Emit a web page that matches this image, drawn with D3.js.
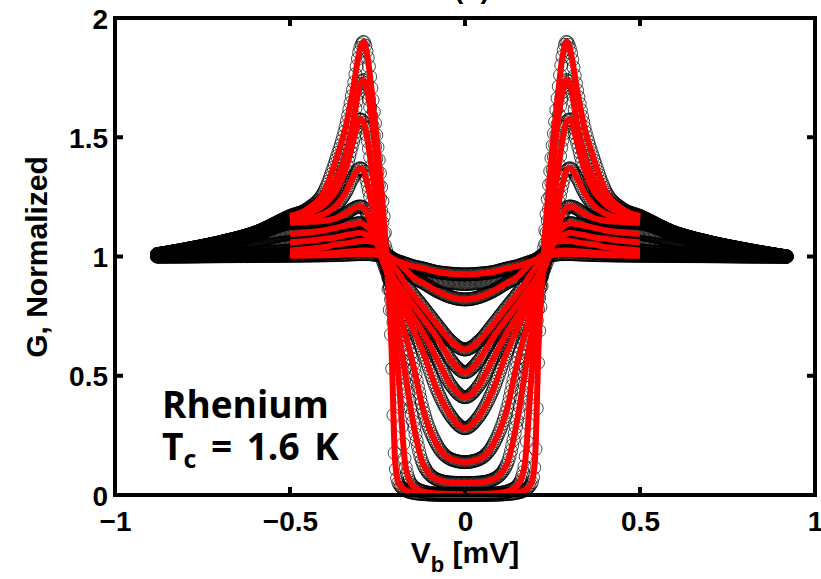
<!DOCTYPE html>
<html><head><meta charset="utf-8">
<script src="https://cdn.jsdelivr.net/npm/d3@7"></script>
<style>body{margin:0;background:#fff;overflow:hidden}</style>
</head><body>
<svg id="c" width="821" height="579"></svg>
<script>
// Bias voltage grid (mV), half profile (curves are symmetric in V)
const vHalf = [0, .04, .08, .12, .15, .17, .19, .20, .21, .22, .23, .24, .26, .28, .29, .30, .32, .34, .37, .40, .45, .50, .60, .70, .80, .92];
// Normalized conductance, one array per temperature
const g1  = [0.0, 0.0, 0.001, 0.004, 0.01, 0.02, 0.05, 0.15, 0.62, 0.9, 1.12, 1.3, 1.6, 1.85, 1.9, 1.87, 1.7, 1.55, 1.4, 1.28, 1.2, 1.17, 1.1, 1.06, 1.03, 1.0];
const g2  = [0.003, 0.004, 0.006, 0.015, 0.04, 0.12, 0.5, 0.66, 0.8, 0.93, 1.06, 1.2, 1.5, 1.7, 1.74, 1.72, 1.56, 1.43, 1.32, 1.25, 1.19, 1.165, 1.1, 1.06, 1.03, 1.0];
const g3  = [0.05, 0.052, 0.065, 0.13, 0.32, 0.5, 0.68, 0.76, 0.84, 0.92, 1.01, 1.1, 1.3, 1.5, 1.565, 1.575, 1.48, 1.37, 1.27, 1.22, 1.18, 1.16, 1.1, 1.06, 1.03, 1.0];
const g4  = [0.138, 0.15, 0.21, 0.36, 0.56, 0.67, 0.78, 0.83, 0.88, 0.93, 0.98, 1.03, 1.17, 1.31, 1.36, 1.37, 1.33, 1.27, 1.21, 1.18, 1.16, 1.15, 1.095, 1.055, 1.028, 1.0];
const g5  = [0.28, 0.33, 0.44, 0.6, 0.7, 0.76, 0.82, 0.85, 0.88, 0.92, 0.96, 1.0, 1.1, 1.18, 1.205, 1.21, 1.2, 1.18, 1.16, 1.15, 1.145, 1.14, 1.09, 1.05, 1.025, 1.0];
const g6  = [0.41, 0.46, 0.57, 0.68, 0.75, 0.8, 0.85, 0.875, 0.9, 0.94, 0.98, 1.03, 1.09, 1.125, 1.135, 1.14, 1.135, 1.13, 1.12, 1.11, 1.1, 1.095, 1.065, 1.04, 1.02, 1.0];
const g7  = [0.515, 0.565, 0.66, 0.74, 0.8, 0.84, 0.88, 0.9, 0.925, 0.955, 0.99, 1.03, 1.07, 1.09, 1.095, 1.1, 1.095, 1.09, 1.08, 1.075, 1.065, 1.06, 1.04, 1.025, 1.012, 1.0];
const g8  = [0.61, 0.645, 0.715, 0.79, 0.845, 0.885, 0.93, 0.95, 0.97, 0.995, 1.02, 1.04, 1.06, 1.065, 1.065, 1.065, 1.06, 1.055, 1.05, 1.04, 1.032, 1.025, 1.015, 1.01, 1.005, 1.0];
const g9  = [0.82, 0.83, 0.855, 0.89, 0.915, 0.945, 0.975, 0.985, 0.995, 1.005, 1.012, 1.016, 1.022, 1.025, 1.025, 1.025, 1.022, 1.02, 1.016, 1.013, 1.01, 1.008, 1.005, 1.003, 1.001, 1.0];
const g9b = [0.885, 0.89, 0.9, 0.92, 0.94, 0.955, 0.97, 0.98, 0.99, 1.0, 1.01, 1.015, 1.022, 1.025, 1.025, 1.024, 1.022, 1.02, 1.016, 1.013, 1.01, 1.008, 1.005, 1.003, 1.001, 1.0];
const g10 = [0.925, 0.928, 0.935, 0.95, 0.96, 0.97, 0.98, 0.985, 0.99, 0.995, 1.0, 1.003, 1.008, 1.01, 1.01, 1.01, 1.009, 1.008, 1.006, 1.005, 1.004, 1.003, 1.002, 1.001, 1.0, 1.0];

const dataCurves = [g1, g2, g3, g4, g5, g6, g7, g8, g9b, g9, g10];   // measured (circles)
const fitCurves  = [g1, g2, g3, g4, g5, g6, g7, g8, g9, g10];        // fits (red lines)
const dataRange = [-0.88, 0.92];
const fitRange  = [-0.5, 0.5];
const dataStep = 0.0035;

const xTicks = [-1, -0.5, 0, 0.5, 1];
const yTicks = [0, 0.5, 1, 1.5, 2];
const xTickLabels = ["\u22121", "\u22120.5", "0", "0.5", "1"];
const yTickLabels = ["0", "0.5", "1", "1.5", "2"];

const svg = d3.select("#c");
const L = 115, R = 815, T = 18, B = 495;
const x = d3.scaleLinear().domain([-1, 1]).range([L, R]);
const y = d3.scaleLinear().domain([0, 2]).range([B, T]);

function fullPoints(g) {
  const pts = [];
  for (let i = vHalf.length - 1; i > 0; i--) pts.push([-vHalf[i], g[i]]);
  for (let i = 0; i < vHalf.length; i++) pts.push([vHalf[i], g[i]]);
  return pts;
}
const line = d3.line().x(d => x(d[0])).y(d => y(d[1])).curve(d3.curveMonotoneX);

// helper path for sampling marker positions along the measured curves
const helper = svg.append("path").attr("fill", "none").attr("stroke", "none");
function sampleAt(g, vmin, vmax, step) {
  helper.attr("d", line(fullPoints(g)));
  const node = helper.node();
  const len = node.getTotalLength();
  const pts = [];
  for (let s = 0; s <= len; s += 0.5) pts.push(node.getPointAtLength(s));
  pts.push(node.getPointAtLength(len));
  const out = [];
  let j = 0;
  for (let v = vmin; v <= vmax + 1e-9; v += step) {
    const tx = x(v);
    while (j < pts.length - 2 && pts[j + 1].x < tx) j++;
    const a = pts[j], b = pts[j + 1];
    const t = b.x === a.x ? 0 : (tx - a.x) / (b.x - a.x);
    out.push([tx, a.y + t * (b.y - a.y)]);
  }
  return out;
}

const gData = svg.append("g");
dataCurves.forEach(g => {
  const pts = sampleAt(g, dataRange[0], dataRange[1], dataStep);
  gData.append("g").selectAll("circle").data(pts).join("circle")
    .attr("cx", d => d[0]).attr("cy", d => d[1]).attr("r", 6.5)
    .attr("fill", "none").attr("stroke", "#000").attr("stroke-opacity", 0.7).attr("stroke-width", 1);
});
helper.remove();

const fitLine = d3.line().x(d => x(d[0])).y(d => y(d[1])).curve(d3.curveMonotoneX);
fitCurves.forEach(g => {
  const pts = fullPoints(g).filter(d => d[0] >= fitRange[0] - 1e-9 && d[0] <= fitRange[1] + 1e-9);
  svg.append("path").attr("d", fitLine(pts)).attr("fill", "none")
    .attr("stroke", "#ff0000").attr("stroke-width", 6).attr("stroke-linejoin", "round");
});

// frame
svg.append("rect").attr("x", L).attr("y", T).attr("width", R - L).attr("height", B - T)
  .attr("fill", "none").attr("stroke", "#000").attr("stroke-width", 4);

const tl = 8;
// x ticks
const xAxisB = d3.axisBottom(x).tickValues(xTicks).tickSize(0).tickFormat((d, i) => xTickLabels[i]);
const xb = svg.append("g").attr("transform", `translate(0,${B})`).call(xAxisB);
xb.select(".domain").remove();
xb.selectAll("text").attr("dy", 0).attr("y", 36).attr("font-family", "Liberation Sans, Arial, sans-serif")
  .attr("font-weight", "bold").attr("font-size", 28).attr("fill", "#000");
xTicks.slice(1, -1).forEach(t => {
  svg.append("line").attr("x1", x(t)).attr("x2", x(t)).attr("y1", B).attr("y2", B - tl).attr("stroke", "#000").attr("stroke-width", 4);
  svg.append("line").attr("x1", x(t)).attr("x2", x(t)).attr("y1", T).attr("y2", T + tl).attr("stroke", "#000").attr("stroke-width", 4);
});
// y ticks
const yAxisL = d3.axisLeft(y).tickValues(yTicks).tickSize(0).tickFormat((d, i) => yTickLabels[i]);
const yl = svg.append("g").attr("transform", `translate(${L - 7},0)`).call(yAxisL);
yl.select(".domain").remove();
yl.selectAll("text").attr("x", 0).attr("dy", "0.36em").attr("font-family", "Liberation Sans, Arial, sans-serif")
  .attr("font-weight", "bold").attr("font-size", 28).attr("fill", "#000");
yTicks.slice(1, -1).forEach(t => {
  svg.append("line").attr("x1", L).attr("x2", L + tl).attr("y1", y(t)).attr("y2", y(t)).attr("stroke", "#000").attr("stroke-width", 4);
  svg.append("line").attr("x1", R).attr("x2", R - tl).attr("y1", y(t)).attr("y2", y(t)).attr("stroke", "#000").attr("stroke-width", 4);
});

// axis titles
const xt = svg.append("text").attr("x", 465).attr("y", 563).attr("text-anchor", "middle")
  .attr("font-family", "Liberation Sans, Arial, sans-serif").attr("font-weight", "bold").attr("font-size", 30);
xt.append("tspan").text("V");
xt.append("tspan").attr("font-size", 22).attr("dy", 9).text("b");
xt.append("tspan").attr("dy", -9).text(" [mV]");

svg.append("text").attr("transform", "translate(47,257) rotate(-90)").attr("text-anchor", "middle")
  .attr("font-family", "Liberation Sans, Arial, sans-serif").attr("font-weight", "bold").attr("font-size", 30)
  .text("G, Normalized");

// partially visible title at the top edge
svg.append("text").attr("x", 472).attr("y", -2).attr("text-anchor", "middle")
  .attr("font-family", "Liberation Sans, Arial, sans-serif").attr("font-weight", "bold").attr("font-size", 28).text("(b)");

// annotation
const ann = svg.append("g").attr("font-family", "Open Sans, sans-serif").attr("font-weight", 700).attr("font-size", 37).attr("fill", "#000");
ann.append("text").attr("x", 162).attr("y", 418).text("Rhenium");
const tc = ann.append("text").attr("x", 162).attr("y", 460).attr("word-spacing", 5);
tc.append("tspan").text("T");
tc.append("tspan").attr("font-size", 25).attr("dy", 8).text("c");
tc.append("tspan").attr("dy", -8).text(" = 1.6 K");
</script>
</body></html>
